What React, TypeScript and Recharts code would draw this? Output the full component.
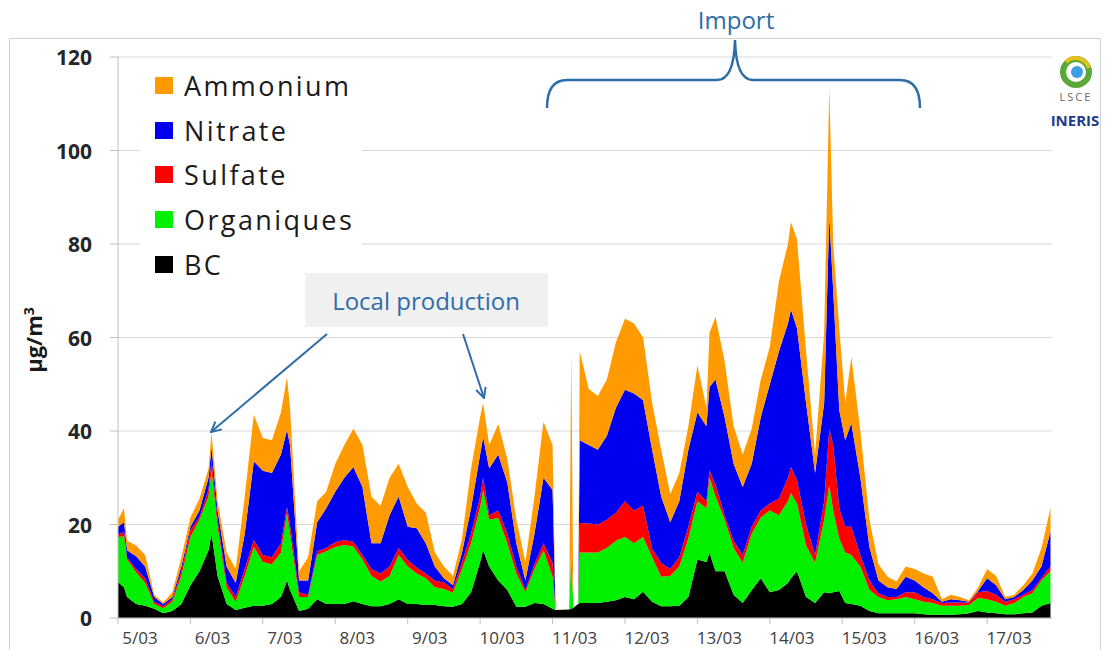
import React from 'react';
import { AreaChart, Area, XAxis, YAxis, CartesianGrid, Legend } from 'recharts';

// hours since 5/03 00:00
const hours = [
  0, 2, 3, 6, 9, 12, 15, 18, 21, 24,
  27, 30, 31, 33, 36, 39, 42, 45, 48, 51,
  54, 56, 57, 60, 63, 66, 69, 72, 75, 78,
  81, 84, 87, 90, 93, 96, 99, 102, 105, 108,
  111, 114, 117, 120, 121, 123, 126, 129, 132, 135,
  138, 141, 144, 145, 149.5, 150.2, 150.9, 152.5, 153, 156,
  159, 162, 165, 168, 171, 174, 177, 180, 183, 186,
  189, 192, 195, 196, 198, 201, 204, 207, 210, 213,
  216, 219, 222, 223, 225, 228, 231, 234, 235.7, 237,
  239, 241, 243, 246, 249, 252, 255, 258, 261, 264,
  267, 270, 273, 276, 279, 282, 285, 288, 291, 294,
  297, 300, 303, 306, 309,
];

const bc = [
  7.7, 6.5, 4.5, 3, 2.6, 2, 1, 1.5, 3, 7,
  10, 14.5, 18, 9, 3, 1.7, 2.2, 2.6, 2.6, 3,
  4.5, 8, 6, 1.5, 2, 4, 3, 3, 3, 3.6,
  3, 2.5, 2.5, 3, 4, 3, 3, 2.8, 2.8, 2.5,
  2.4, 3, 5.5, 12, 14.5, 11, 8, 6, 2.4, 2.4,
  3.2, 3, 2, 1.7, 1.8, 2, 2.2, 3, 3.2, 3.2,
  3.2, 3.5, 3.8, 4.5, 4, 5.6, 3.5, 2.5, 2.5, 2.6,
  4.5, 12.5, 12, 14, 10, 10, 5, 3.2, 6, 8.5,
  5.5, 6, 7.5, 8.5, 10, 4.5, 3.2, 5.5, 5.3, 5.5,
  5.8, 3.2, 3, 2.6, 1.5, 1, 1, 1, 1, 1,
  0.8, 0.7, 0.7, 0.7, 0.8, 1, 1.5, 1.2, 1, 0.8,
  0.8, 1, 1.2, 2.6, 3.2,
];

const organiques = [
  9.6, 11, 8, 6.8, 4.9, 1, 1.1, 2, 6, 10.3,
  11, 11.5, 13.6, 10.5, 3.5, 1.8, 6.8, 12.6, 9.4, 8.5,
  9.5, 14.4, 12, 3, 2.5, 9.5, 11.3, 12.2, 12.6, 11.7,
  9.5, 6.5, 5.3, 6, 9.5, 8, 6.5, 5.7, 3.8, 3.7,
  3, 7.5, 10.5, 11.7, 12.9, 10, 13.4, 10, 7.1, 3.1,
  7.3, 11.5, 6.8, 0, 0, 12, 0, 0, 10.8, 10.8,
  10.8, 11.5, 12.7, 12.8, 12, 11.7, 9.5, 6.3, 6.5, 8.4,
  12.5, 12.5, 11.5, 16, 16, 11, 10, 8.6, 12, 13,
  17.5, 16, 17.5, 18.2, 14.5, 11, 8.6, 15.5, 23.2, 17.5,
  11.2, 10.8, 10.5, 8.4, 4.5, 3.5, 2.8, 3, 3.5, 3,
  2.7, 2.5, 1.9, 1.9, 1.8, 1.8, 2.8, 2.8, 2.5, 1.8,
  2.4, 3.5, 4.1, 5.4, 6.8,
];

const sulfate = [
  0.5, 1, 0.5, 0.7, 1, 0.5, 0.4, 0.5, 1, 1.5,
  0.6, 1.5, 2.2, 1.5, 1, 1, 1.5, 1.5, 1.5, 1.5,
  2, 1.3, 2, 1, 0.5, 0.7, 0.7, 1, 1.1, 1,
  1, 1.5, 1.7, 2, 1.5, 1.4, 1.3, 1, 1.4, 1.4,
  0.8, 1.5, 2, 2.3, 2.6, 1, 1.6, 2, 1.5, 0.5,
  1, 1.5, 3, 0, 0, 0.5, 0, 0, 6.3, 6.2,
  6, 6, 6, 7.7, 7, 6.7, 1.8, 3, 1.5, 2,
  2.5, 2, 1.5, 1.6, 2.5, 1, 1.5, 1.7, 1.5, 1.5,
  1.5, 3.5, 5, 5.6, 5, 4.5, 1.7, 4, 12, 14,
  6.5, 5.5, 6, 2.5, 2, 0.8, 0.7, 0.5, 1, 1.5,
  1, 0.8, 0.6, 0.7, 0.7, 0.5, 1.2, 1.8, 1.5, 0.9,
  0.8, 0.5, 0.7, 0.5, 1,
];

const nitrate = [
  1.7, 2, 1.5, 2.7, 2.5, 1, 0.5, 0.5, 1, 0.7,
  1.4, 2.5, 2.8, 2, 3.5, 3, 7.5, 16.8, 18, 18,
  19, 16.5, 17, 2.5, 3, 6.3, 8.5, 10.8, 13.3, 16,
  14.5, 5.5, 6.5, 11, 11, 7.1, 8.4, 6.5, 3, 0.9,
  0.8, 2, 5.5, 9, 8.7, 10, 12, 11, 5, 2,
  6.5, 14, 15.6, 0, 0, 0.5, 0, 0, 17.7, 16.8,
  16, 18, 22.5, 23.8, 25, 22.6, 21.2, 14.2, 10, 12,
  16.5, 17, 16, 17.8, 22.5, 21, 16.5, 14.5, 13.5, 20,
  25.5, 31.5, 33, 33.7, 32.5, 26, 17.5, 21, 45.5, 33,
  21, 18.5, 22.2, 16.5, 7.2, 2.7, 2.1, 1.7, 3.3, 2.5,
  2, 1.3, 0.3, 0.7, 0.5, 0.2, 0.3, 2.7, 2, 0.5,
  0.5, 1, 2, 2.5, 7.5,
];

const ammonium = [
  1.5, 3, 2, 2.3, 2.5, 0.5, 0.3, 1, 2, 2,
  2.5, 2, 3, 2, 3, 3, 8, 10, 7, 7,
  9, 11.3, 8, 2, 5, 4.5, 3.5, 6, 7, 8.2,
  9, 10, 8, 8, 7, 8.5, 5.3, 6.5, 3, 2.5,
  2, 3, 8.5, 8, 7.3, 5, 6.5, 5, 5, 4,
  8, 12, 9.6, 0, 0, 41.7, 0, 0, 19, 12,
  11.5, 12, 14, 15.2, 15, 13.4, 10, 10, 6, 6,
  5, 10, 4, 11.6, 13.4, 12, 8, 7, 7.5, 8,
  8, 15, 17, 18.7, 19, 11, 4, 15, 27.4, 10,
  17.5, 8, 14.1, 10, 5.8, 3.5, 2.2, 1.6, 2.2, 2.5,
  3, 3.5, 0.5, 1, 0.7, 0.3, 0.7, 2, 2, 0.5,
  0.5, 1, 1.5, 4, 5,
];

const dayTicks = [0, 24, 48, 72, 96, 120, 144, 168, 192, 216, 240, 264, 288];
const dayLabels = ['5/03', '6/03', '7/03', '8/03', '9/03', '10/03', '11/03', '12/03', '13/03', '14/03', '15/03', '16/03', '17/03'];
const yTicks = [0, 20, 40, 60, 80, 100, 120];

const series = [
  { key: 'bc', name: 'BC', color: '#000000' },
  { key: 'org', name: 'Organiques', color: '#00f000' },
  { key: 'sulf', name: 'Sulfate', color: '#ff0000' },
  { key: 'nit', name: 'Nitrate', color: '#0000f0' },
  { key: 'amm', name: 'Ammonium', color: '#ff9a00' },
];

const data = hours.map((h, i) => ({
  h,
  bc: bc[i],
  org: organiques[i],
  sulf: sulfate[i],
  nit: nitrate[i],
  amm: ammonium[i],
}));

const FONT = '"Open Sans", sans-serif';
const BLUE = '#2e6da8';

function DayTick({ x, y, payload }: any) {
  return (
    <text x={x + 22} y={y + 11} textAnchor="middle" dominantBaseline="central"
      fontSize={17} fill="#404040" fontFamily={FONT}>
      {dayLabels[Math.round(payload.value / 24)]}
    </text>
  );
}

function ValueTick({ x, y, payload }: any) {
  return (
    <text x={x - 16} y={y} textAnchor="end" dominantBaseline="central"
      fontSize={21} fontWeight={700} fill="#262626" fontFamily={FONT}>
      {payload.value}
    </text>
  );
}

function LegendBox() {
  const items = [...series].reverse();
  return (
    <div style={{ background: '#fff', width: 222, height: 228, paddingTop: 1 }}>
      {items.map((s) => (
        <div key={s.key} style={{ display: 'flex', alignItems: 'center', height: 44.7, paddingLeft: 15 }}>
          <span style={{ width: 18, height: 17, background: s.color, display: 'inline-block', marginRight: 11 }} />
          <span style={{ fontFamily: FONT, fontSize: 27, letterSpacing: 2.4, color: '#1a1a1a', lineHeight: 1 }}>
            {s.name}
          </span>
        </div>
      ))}
    </div>
  );
}

function Overlay() {
  return (
    <svg width={1107} height={650} style={{ position: 'absolute', left: 0, top: 0, pointerEvents: 'none' }}>
      <defs>
        <marker id="arr" viewBox="0 0 12 12" refX="11" refY="6" markerWidth="12" markerHeight="12"
          markerUnits="userSpaceOnUse" orient="auto">
          <path d="M1,1 L11,6 L1,11" fill="none" stroke={BLUE} strokeWidth={2} />
        </marker>
      </defs>
      {/* Import brace */}
      <text x={736} y={19} textAnchor="middle" dominantBaseline="central" fontSize={24}
        fill={BLUE} fontFamily={FONT}>Import</text>
      <path d="M547,108 Q547,80 567,80 L717,80 Q734,80 735,40 Q736,80 753,80 L900,80 Q920,80 920,108"
        fill="none" stroke={BLUE} strokeWidth={2.5} />
      {/* Local production */}
      <rect x={305} y={273} width={243} height={54} fill="#f0f0f0" />
      <text x={426} y={300} textAnchor="middle" dominantBaseline="central" fontSize={24}
        fill={BLUE} fontFamily={FONT}>Local production</text>
      <line x1={327} y1={334} x2={211} y2={432} stroke={BLUE} strokeWidth={2} markerEnd="url(#arr)" />
      <line x1={463} y1={334} x2={484} y2={398} stroke={BLUE} strokeWidth={2} markerEnd="url(#arr)" />
      {/* y axis title */}
      <text transform="translate(42,340) rotate(-90)" textAnchor="middle" fontSize={22}
        fontWeight={700} fill="#1a1a1a" fontFamily={FONT}>
        µg/m<tspan dy={-8} fontSize={14}>3</tspan>
      </text>
      {/* logos */}
      <circle cx={1076} cy={72} r={13} fill="none" stroke="#5aa83a" strokeWidth={6} />
      <path d="M1066,62 A14,14 0 0 1 1089,68" fill="none" stroke="#e6c21a" strokeWidth={4} />
      <circle cx={1077} cy={72} r={6} fill="#3aa0e6" />
      <text x={1076} y={101} textAnchor="middle" fontSize={11} letterSpacing={2} fill="#666"
        fontFamily={FONT}>LSCE</text>
      <text x={1075} y={126} textAnchor="middle" fontSize={15} fontWeight={700} fill="#1f3c88"
        fontFamily={FONT}>INERIS</text>
    </svg>
  );
}

export default function App() {
  return (
    <div style={{ position: 'absolute', left: 0, top: 0, width: 1107, height: 650, background: '#fff', overflow: 'hidden' }}>
      <div style={{ position: 'absolute', left: 9, top: 38, width: 1090, height: 640, border: '1px solid #d0d0d0' }} />
      <AreaChart width={1107} height={650} data={data}
        margin={{ top: 57, right: 55, bottom: 2, left: 58 }}>
        <CartesianGrid vertical={false} stroke="#d9d9d9" />
        <XAxis dataKey="h" type="number" domain={[0, 309.5]} ticks={dayTicks} interval={0}
          height={30} tick={<DayTick />} tickSize={6} stroke="#bfbfbf" />
        <YAxis domain={[0, 120]} ticks={yTicks} width={60} tick={<ValueTick />}
          tickSize={8} stroke="#bfbfbf" interval={0} />
        {series.map((s) => (
          <Area key={s.key} dataKey={s.key} name={s.name} stackId="a" type="linear"
            fill={s.color} fillOpacity={1} stroke="none" isAnimationActive={false}
            dot={false} activeDot={false} />
        ))}
        <Legend layout="vertical" align="center" verticalAlign="middle" content={() => <LegendBox />}
          wrapperStyle={{ left: 140, top: 62, width: 222, height: 228 }} />
      </AreaChart>
      <Overlay />
    </div>
  );
}
